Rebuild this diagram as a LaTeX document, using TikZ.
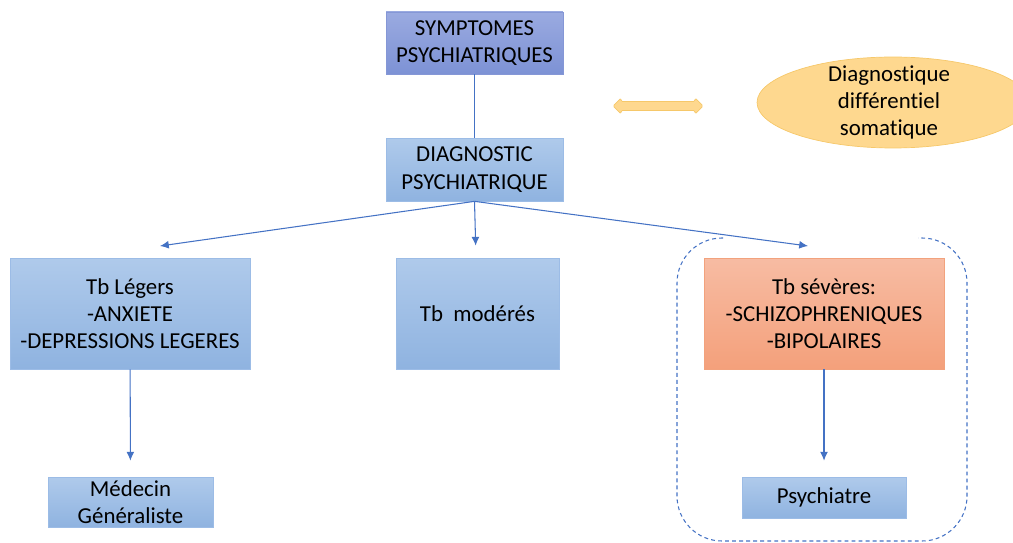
\documentclass[tikz,border=0pt]{standalone}
\usepackage{fontspec}
\setmainfont{Carlito}[Ligatures=NoCommon]
\usetikzlibrary{positioning, shapes.geometric, arrows.meta}
\definecolor{lien}{HTML}{4472C4}
\definecolor{bleuHaut}{HTML}{AFCAEB}
\definecolor{bleuBas}{HTML}{8FB3E0}
\definecolor{bleuBord}{HTML}{9CBCE6}
\definecolor{violHaut}{HTML}{9AAAE0}
\definecolor{violBas}{HTML}{7D92D5}
\definecolor{violBord}{HTML}{8597D6}
\definecolor{oraHaut}{HTML}{F7BCA3}
\definecolor{oraBas}{HTML}{F4A07B}
\definecolor{oraBord}{HTML}{F2A27D}
\definecolor{orFond}{HTML}{FED88F}
\definecolor{orBord}{HTML}{F6C86A}

\begin{document}
\begin{tikzpicture}[x=0.02cm, y=-0.02cm, font=\fontsize{13}{15.5}\selectfont,
		boite/.style={draw=bleuBord, top color=bleuHaut, bottom color=bleuBas, align=center, inner sep=0pt},
		boitesympt/.style={boite, draw=violBord, top color=violHaut, bottom color=violBas},
		boitesev/.style={boite, draw=oraBord, top color=oraHaut, bottom color=oraBas},
		fleche/.style={draw=lien, line width=0.6pt, -{Latex[length=5pt, width=4.5pt]}}]
		\useasboundingbox (0,0) rectangle (1013,543);
		\coordinate (D1) at (658,106);
		% boites
		\node[boitesympt, minimum width=3.54cm, minimum height=1.24cm] (sympt) at (474.5,43) {SYMPTOMES\\PSYCHIATRIQUES};
		\node[boite, minimum width=3.54cm, minimum height=1.26cm] (diag) at (474.5,169.5) {DIAGNOSTIC\\PSYCHIATRIQUE};
		\node[boite, minimum width=4.8cm, minimum height=2.22cm] (leg) at (130,313.5) {Tb Légers\\-ANXIETE\\-DEPRESSIONS LEGERES};
		\node[boite, minimum width=3.26cm, minimum height=2.22cm] (mod) at (477.5,313.5) {Tb\ \ modérés};
		\node[boitesev, minimum width=4.8cm, minimum height=2.22cm] (sev) at (824,313.5) {Tb sévères:\\-SCHIZOPHRENIQUES\\-BIPOLAIRES};
		\node[boite, minimum width=3.3cm, minimum height=1.0cm] (med) at (130.5,502) {Médecin\\Généraliste};
		\node[boite, minimum width=3.28cm, minimum height=0.82cm] (psy) at (824,497.5) {Psychiatre};
		\node[ellipse, draw=orBord, fill=orFond, inner sep=0pt, minimum width=5.44cm, minimum height=1.82cm] (somat) at (893,102.5) {};
		\node[align=center] (somatTxt) at (889,102.5) {Diagnostique\\différentiel\\somatique};
		% double fleche
		\begin{scope}[shift=(D1)]
			\filldraw[draw=orBord, fill=orFond, line width=0.4pt, rounded corners=0.8pt] (-45,0) -- (-37,-8) -- (-37,-4.5) -- (37,-4.5) -- (37,-8) -- (45,0) -- (37,8) -- (37,4.5) -- (-37,4.5) -- (-37,8) -- cycle;
		\end{scope}
		% liens
		\coordinate (fLeg) at (160,246);
		\coordinate (fSev) at (808,246);
		\draw[lien, line width=0.6pt] (sympt) -- (diag);
		\draw[fleche] (diag.south) -- (fLeg);
		\draw[fleche, shorten >=0.24cm] (diag.south) -- (mod);
		\draw[fleche] (diag.south) -- (fSev);
		\draw[fleche, shorten >=0.32cm] (leg) -- (med);
		\draw[fleche, shorten >=0.32cm] (sev) -- (psy);
		% cadre
		\draw[lien, line width=0.6pt, dash pattern=on 2.2pt off 1.8pt, rounded corners=0.9cm] (723,238) -- (677,238) -- (677,541) -- (967,541) -- (967,238) -- (918,238);
	\end{tikzpicture}
\end{document}
